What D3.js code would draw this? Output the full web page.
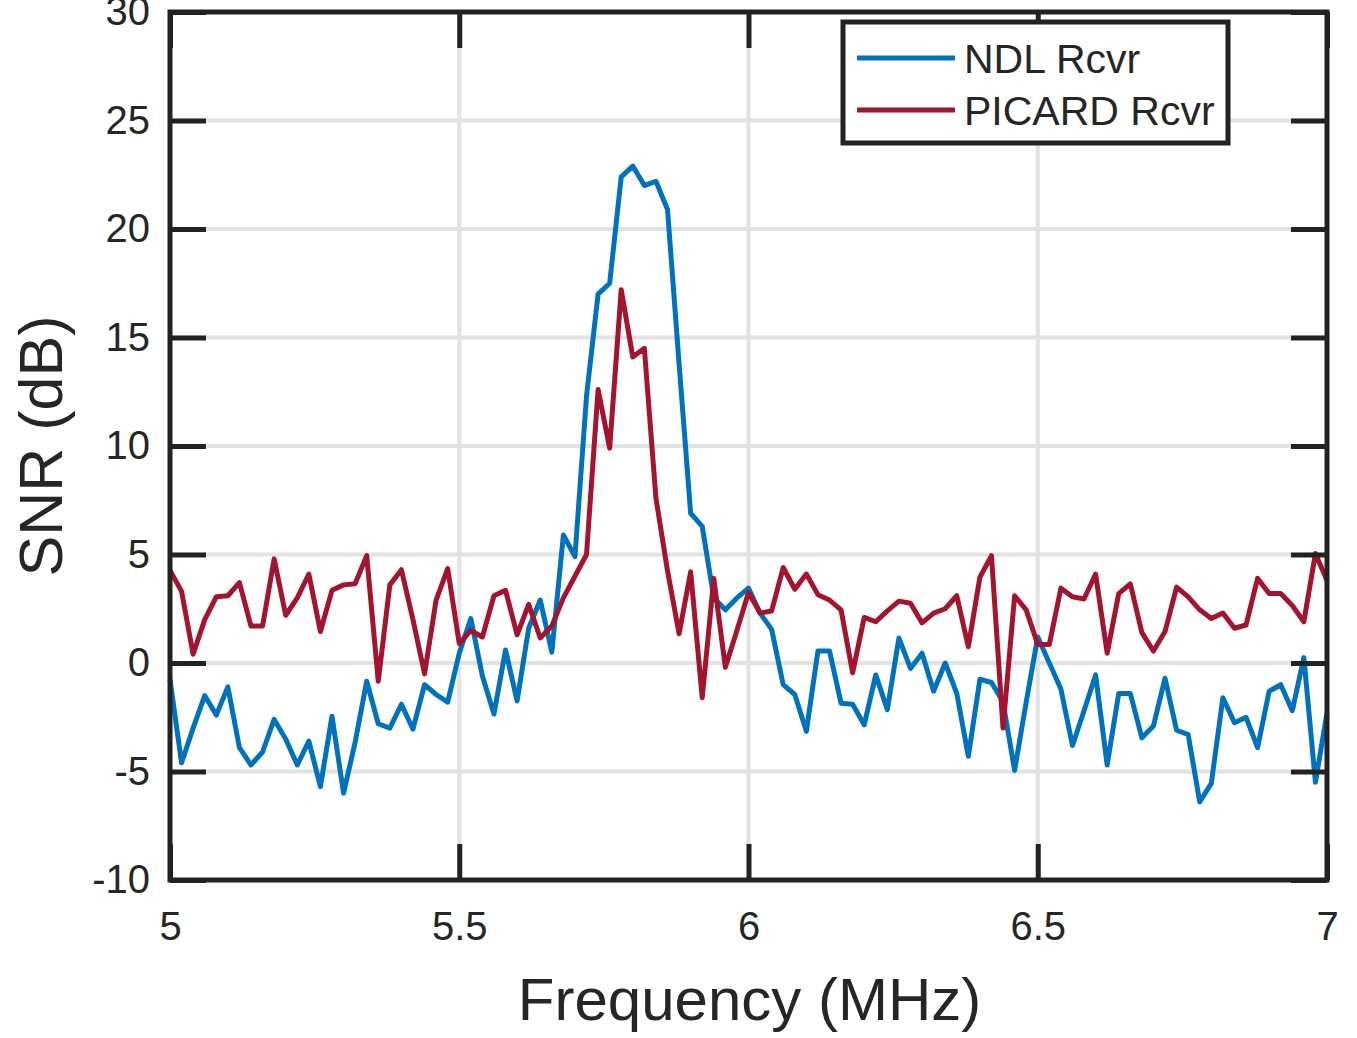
<!DOCTYPE html>
<html>
<head>
<meta charset="utf-8">
<script src="https://cdn.jsdelivr.net/npm/d3@7"></script>
<style>
  body { margin: 0; background: #fff; }
  text { font-family: "Liberation Sans", Arial, Helvetica, sans-serif; fill: #262626; }
</style>
</head>
<body>
<svg id="chart" width="1357" height="1038"></svg>
<script>
// sampling of the frequency axis (MHz)
const freqStart = 5, freqStep = 0.02;

// SNR (dB), one value per frequency sample
const ndl = [
  -0.76, -4.6, -3.0, -1.5, -2.4, -1.1, -3.9, -4.7, -4.1, -2.6,
  -3.5, -4.7, -3.6, -5.7, -2.45, -6.0, -3.66, -0.84, -2.8, -3.0,
  -1.9, -3.05, -1.0, -1.45, -1.8, 0.45, 2.05, -0.6, -2.35, 0.6,
  -1.75, 1.6, 2.9, 0.5, 5.9, 4.9, 12.3, 17.0, 17.5, 22.4,
  22.9, 22.0, 22.2, 20.9, 13.8, 6.9, 6.3, 3.0, 2.45, 3.0,
  3.45, 2.3, 1.55, -1.0, -1.45, -3.15, 0.55, 0.55, -1.85, -1.9,
  -2.85, -0.55, -2.15, 1.15, -0.25, 0.45, -1.3, 0.0, -1.4, -4.3,
  -0.75, -0.9, -1.8, -4.95, -1.8, 1.2, 0.0, -1.2, -3.8, -2.2,
  -0.55, -4.7, -1.4, -1.4, -3.45, -2.9, -0.7, -3.1, -3.3, -6.4,
  -5.55, -1.6, -2.75, -2.5, -3.9, -1.3, -1.0, -2.2, 0.25, -5.5,
  -2.3
];
const picard = [
  4.27, 3.3, 0.4, 2.0, 3.05, 3.1, 3.7, 1.7, 1.7, 4.8,
  2.2, 3.0, 4.1, 1.45, 3.35, 3.6, 3.65, 4.95, -0.84, 3.6,
  4.3, 2.0, -0.5, 2.9, 4.35, 0.9, 1.5, 1.2, 3.1, 3.35,
  1.3, 2.7, 1.15, 1.7, 3.0, 4.0, 5.0, 12.6, 9.9, 17.2,
  14.1, 14.5, 7.6, 4.25, 1.35, 4.2, -1.6, 3.9, -0.2, 1.5,
  3.25, 2.3, 2.4, 4.4, 3.4, 4.1, 3.15, 2.9, 2.45, -0.45,
  2.1, 1.9, 2.4, 2.85, 2.75, 1.85, 2.3, 2.5, 3.1, 0.75,
  3.95, 4.95, -3.0, 3.1, 2.45, 0.85, 0.85, 3.45, 3.05, 2.95,
  4.1, 0.45, 3.2, 3.65, 1.4, 0.55, 1.45, 3.5, 3.05, 2.45,
  2.05, 2.3, 1.6, 1.75, 3.9, 3.2, 3.2, 2.65, 1.9, 5.05,
  3.8
];

const seriesNames = ["NDL Rcvr", "PICARD Rcvr"];
const seriesColors = ["#0072BD", "#A2142F"];
const xTicks = [5, 5.5, 6, 6.5, 7];
const yTicks = [-10, -5, 0, 5, 10, 15, 20, 25, 30];

const margin = {top: 12, left: 170, right: 30, bottom: 158};
const width = 1357 - margin.left - margin.right;
const height = 1038 - margin.top - margin.bottom;

const svg = d3.select("#chart");
const g = svg.append("g")
    .attr("transform", "translate(" + margin.left + "," + margin.top + ")");

const x = d3.scaleLinear().domain([5, 7]).range([0, width]);
const y = d3.scaleLinear().domain([-10, 30]).range([height, 0]);

// grid
g.append("g")
    .attr("class", "grid")
    .selectAll("line.gx")
    .data(xTicks)
    .enter().append("line")
    .attr("x1", d => x(d)).attr("x2", d => x(d))
    .attr("y1", 0).attr("y2", height)
    .attr("stroke", "#e2e2e2").attr("stroke-width", 4);
g.select(".grid")
    .selectAll("line.gy")
    .data(yTicks)
    .enter().append("line")
    .attr("x1", 0).attr("x2", width)
    .attr("y1", d => y(d)).attr("y2", d => y(d))
    .attr("stroke", "#e2e2e2").attr("stroke-width", 4);

// data lines
const line = d3.line()
    .x((d, i) => x(freqStart + i * freqStep))
    .y(d => y(d));

[ndl, picard].forEach((s, k) => {
    g.append("path")
        .datum(s)
        .attr("fill", "none")
        .attr("stroke", seriesColors[k])
        .attr("stroke-width", 5)
        .attr("stroke-linejoin", "round")
        .attr("d", line);
});

// axes with inward ticks on all four sides
const tickLen = 36;
function styleAxis(sel){
    sel.select(".domain").remove();
    sel.selectAll(".tick line").attr("stroke", "#222").attr("stroke-width", 5);
    sel.selectAll(".tick text").attr("font-size", 40).attr("fill", "#262626");
}
g.append("g")
    .attr("transform", "translate(0," + height + ")")
    .call(d3.axisBottom(x).tickValues(xTicks).tickSize(-tickLen).tickPadding(32).tickFormat(d => String(d)))
    .call(styleAxis);
g.append("g")
    .call(d3.axisTop(x).tickValues(xTicks).tickSize(-tickLen).tickFormat(""))
    .call(styleAxis);
g.append("g")
    .call(d3.axisLeft(y).tickValues(yTicks).tickSize(-tickLen).tickPadding(20).tickFormat(d => String(d)))
    .call(styleAxis);
g.append("g")
    .attr("transform", "translate(" + width + ",0)")
    .call(d3.axisRight(y).tickValues(yTicks).tickSize(-tickLen).tickFormat(""))
    .call(styleAxis);

// box
g.append("rect")
    .attr("width", width).attr("height", height)
    .attr("fill", "none").attr("stroke", "#222").attr("stroke-width", 5);

// axis titles
g.append("text")
    .attr("x", width / 2 + 1).attr("y", height + 140)
    .attr("text-anchor", "middle")
    .attr("font-size", 60)
    .text("Frequency (MHz)");
svg.append("text")
    .attr("transform", "translate(62," + (margin.top + height / 2) + ") rotate(-90)")
    .attr("text-anchor", "middle")
    .attr("font-size", 61)
    .text("SNR (dB)");

// legend
const legend = svg.append("g").attr("transform", "translate(843,22)");
legend.append("rect")
    .attr("width", 385).attr("height", 121)
    .attr("fill", "#fff").attr("stroke", "#222").attr("stroke-width", 5);
seriesNames.forEach((name, k) => {
    const ly = 36 + k * 52;
    legend.append("line")
        .attr("x1", 14).attr("x2", 112)
        .attr("y1", ly).attr("y2", ly)
        .attr("stroke", seriesColors[k]).attr("stroke-width", 5);
    legend.append("text")
        .attr("x", 121).attr("y", ly + 15)
        .attr("font-size", 41)
        .text(name);
});
</script>
</body>
</html>
